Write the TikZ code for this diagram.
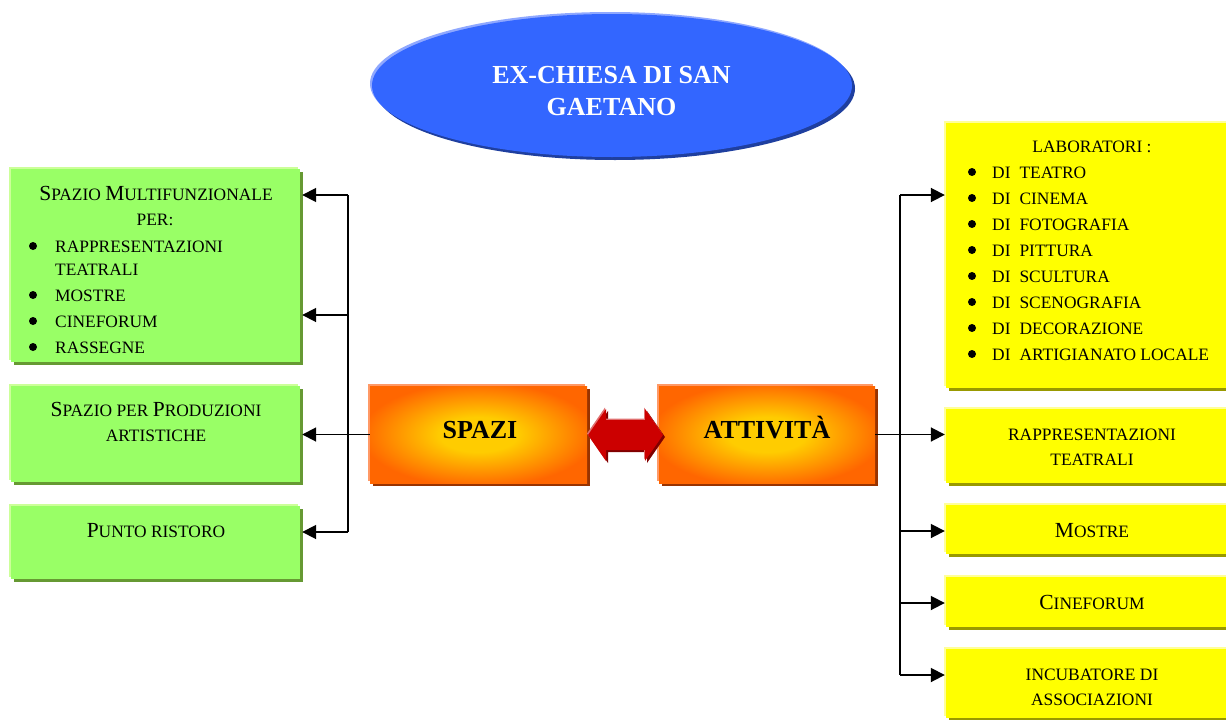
\documentclass[tikz,border=0pt]{standalone}
\usepackage{fontspec}
\setmainfont{Liberation Serif}
\usetikzlibrary{shapes.geometric,shadows,calc,arrows.meta}
\definecolor{gbody}{HTML}{99FF66}
\definecolor{glight}{HTML}{CCFF99}
\definecolor{gdark}{HTML}{669933}
\definecolor{ybody}{HTML}{FFFF00}
\definecolor{ylight}{HTML}{FFFF99}
\definecolor{ydark}{HTML}{999900}
\definecolor{ocenter}{HTML}{FFCC00}
\definecolor{omid}{HTML}{FF9900}
\definecolor{oedge}{HTML}{FF6600}
\definecolor{olight}{HTML}{FF9966}
\definecolor{odark}{HTML}{993300}
\definecolor{bbody}{HTML}{3366FF}
\definecolor{blight}{HTML}{8FA8FF}
\definecolor{bdark}{HTML}{1F3F9F}
\definecolor{rbody}{HTML}{CC0000}
\definecolor{rlight}{HTML}{E07070}
\definecolor{rdark}{HTML}{800000}
\pgfdeclareradialshading{orangeglow}{\pgfpoint{0bp}{0bp}}{color(0bp)=(ocenter); color(9bp)=(ocenter); color(18bp)=(omid); color(27bp)=(oedge); color(50bp)=(oedge)}
\newcommand\scB[1]{{\fontsize{21.5}{25}\selectfont #1}}
\begin{document}
\begin{tikzpicture}[x=1pt,y=-1pt,
  threed/.style n args={3}{draw=none, fill=#1, inner sep=0pt,
    drop shadow={shadow xshift=3pt, shadow yshift=-3pt, fill=#3, opacity=1},
    drop shadow={shadow xshift=-2pt, shadow yshift=2pt, fill=#2, opacity=1}},
  gbox/.style={rectangle, threed={gbody}{glight}{gdark}},
  ybox/.style={rectangle, threed={ybody}{ylight}{ydark}},
  obox/.style={rectangle, threed={oedge}{olight}{odark}, shading=orangeglow},
  txt/.style={font=\fontsize{17.4}{20}\selectfont, inner sep=0pt, anchor=base},
  ltxt/.style={txt, anchor=base west},
  dot/.style={circle, fill=black, minimum size=8pt, inner sep=0pt},
  line/.style={draw=black, line width=1.8pt},
  conn/.style={line, -{Triangle[length=14pt,width=14pt]}},
  bigt/.style={font=\fontsize{26}{30}\selectfont\bfseries, inner sep=0pt, anchor=base}]
\useasboundingbox (0,0) rectangle (1226,720);
\clip (0,0) rectangle (1226,720);

% title ellipse
\node[ellipse, threed={bbody}{blight}{bdark}, minimum width=480pt, minimum height=143pt] (title) at (612,85.5) {};
\node[bigt, text=white] (title1) at (611.5,83) {EX-CHIESA DI SAN};
\node[bigt, text=white] (title2) at (611.5,115) {GAETANO};

% left green boxes
\node[gbox, minimum width=289pt, minimum height=193pt] (g1) at (155.5,265.5) {};
\node[gbox, minimum width=289pt, minimum height=96pt] (g2) at (155.5,434) {};
\node[gbox, minimum width=289pt, minimum height=73pt] (g3) at (155.5,542.5) {};

% orange boxes
\node[obox, minimum width=217pt, minimum height=97pt] (spazi) at (478.5,434.5) {};
\node[obox, minimum width=216pt, minimum height=97pt] (attivita) at (767,434.5) {};
\node[bigt] (spazit) at (480,438) {SPAZI};
\node[bigt] (attivitat) at (767,438) {ATTIVITÀ};

% right yellow boxes
\node[ybox, minimum width=294pt, minimum height=265pt] (y1) at (1093,255.5) {};
\node[ybox, minimum width=294pt, minimum height=74pt] (y2) at (1093,446) {};
\node[ybox, minimum width=294pt, minimum height=49pt] (y3) at (1093,529.5) {};
\node[ybox, minimum width=294pt, minimum height=50pt] (y4) at (1093,602) {};
\node[ybox, minimum width=294pt, minimum height=69pt] (y5) at (1093,683.5) {};

% red double arrow
\def\dblarrow{(588,435) -- (606,409) -- (606,420) -- (645,420) -- (645,409) -- (663,435) -- (645,461) -- (645,450) -- (606,450) -- (606,461) -- cycle}
\fill[rdark, shift={(2,2)}] \dblarrow;
\fill[rlight, shift={(-1,-1.5)}] \dblarrow;
\fill[rbody] \dblarrow;

% texts in green boxes
\node[txt] (g1a) at (156,200) {\scB{S}PAZIO \scB{M}ULTIFUNZIONALE};
\node[txt] (g1b) at (155,225) {PER:};
\node[dot] (g1d1) at (33,246) {};
\node[ltxt] (g1c) at (55,252) {RAPPRESENTAZIONI};
\node[ltxt] (g1e) at (55,275) {TEATRALI};
\node[dot] (g1d2) at (33,295) {};
\node[ltxt] (g1f) at (55,301) {MOSTRE};
\node[dot] (g1d3) at (33,321) {};
\node[ltxt] (g1g) at (55,327) {CINEFORUM};
\node[dot] (g1d4) at (33,347) {};
\node[ltxt] (g1h) at (55,353) {RASSEGNE};
\node[txt] (g2a) at (156,416) {\scB{S}PAZIO PER \scB{P}RODUZIONI};
\node[txt] (g2b) at (156,441) {ARTISTICHE};
\node[txt] (g3a) at (156,537) {\scB{P}UNTO RISTORO};

% texts in yellow boxes
\node[txt] (y1a) at (1092,152) {LABORATORI :};
\foreach \t [count=\i from 0] in {TEATRO, CINEMA, FOTOGRAFIA, PITTURA, SCULTURA, SCENOGRAFIA, DECORAZIONE, ARTIGIANATO LOCALE}{
  \node[dot] (y1d\i) at (972,{172+26*\i}) {};
  \node[ltxt] (y1t\i) at (992,{178+26*\i}) {DI\hspace{9pt}\t};
}
\node[txt] (y2a) at (1092,440) {RAPPRESENTAZIONI};
\node[txt] (y2b) at (1092,465) {TEATRALI};
\node[txt] (y3a) at (1092,537) {\scB{M}OSTRE};
\node[txt] (y4a) at (1092,609) {\scB{C}INEFORUM};
\node[txt] (y5a) at (1092,680) {INCUBATORE DI};
\node[txt] (y5b) at (1092,705) {ASSOCIAZIONI};

% left connectors
\coordinate (lt) at (348,195);
\coordinate (lm) at (348,315);
\coordinate (lb) at (348,532);
\draw[line] (lt) -- (lb);
\draw[conn] (lt) -- ($(lt -| g1.east)+(2,0)$);
\draw[conn] (lm) -- ($(lm -| g1.east)+(2,0)$);
\draw[conn] (lb) -- ($(lb -| g3.east)+(2,0)$);
\draw[conn] (spazi.west) -- ($(spazi.west -| g2.east)+(2,0)$);

% right connectors
\coordinate (rt) at (900,195);
\coordinate (r3) at (900,531);
\coordinate (r4) at (900,603);
\coordinate (rb) at (900,675);
\draw[line] (rt) -- (rb);
\draw[conn] (rt) -- ($(rt -| y1.west)+(-1,0)$);
\draw[conn] (attivita.east) -- ($(attivita.east -| y2.west)+(-1,0)$);
\draw[conn] (r3) -- ($(r3 -| y3.west)+(-1,0)$);
\draw[conn] (r4) -- ($(r4 -| y4.west)+(-1,0)$);
\draw[conn] (rb) -- ($(rb -| y5.west)+(-1,0)$);
\end{tikzpicture}
\end{document}
